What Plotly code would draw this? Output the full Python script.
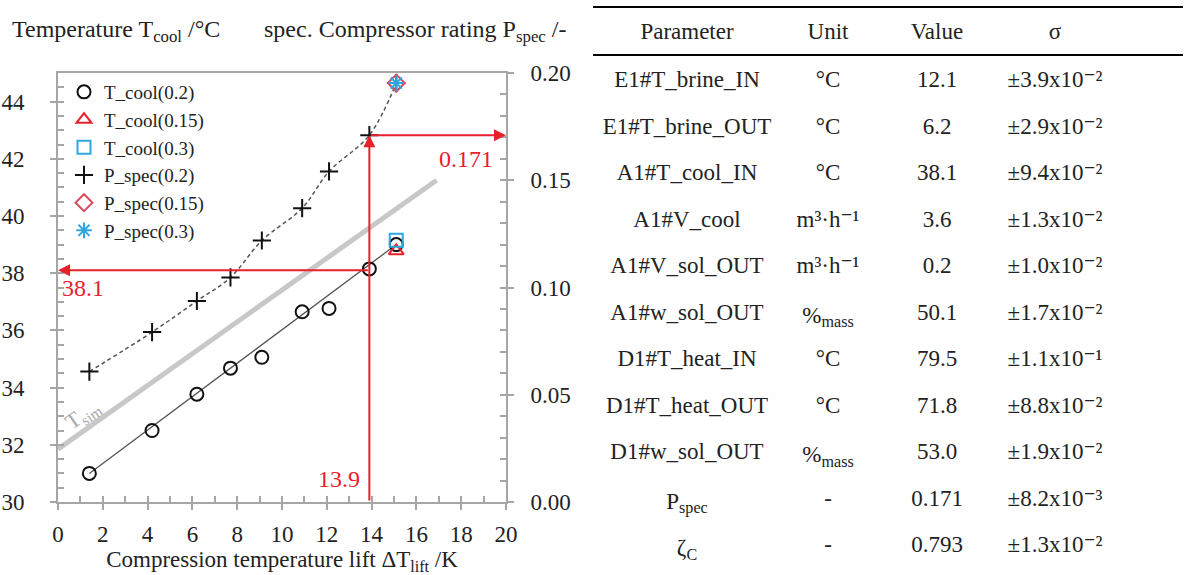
import plotly.graph_objects as go

# ---------------- data ----------------
dT_lift = [1.4, 4.2, 6.2, 7.7, 9.1, 10.9, 12.1, 13.9, 15.1]
T_cool_02 = [31.0, 32.5, 33.77, 34.68, 35.06, 36.65, 36.77, 38.15, 39.0]
P_spec_02 = [0.0608, 0.0792, 0.0937, 0.1047, 0.1219, 0.137, 0.1541, 0.171, 0.1953]

dT_single = [15.1]
T_cool_015 = [38.78]
T_cool_03 = [39.15]
P_spec_015 = [0.1953]
P_spec_03 = [0.1953]

fit_x = [1.4, 15.1]
fit_T = [31.0, 39.0]

sim_x = [0.0, 16.9]
sim_T = [31.85, 41.25]

op_dT = 13.9
op_T = 38.1
op_P = 0.171

xticks = list(range(0, 21, 2))

tbl_param = ["E1#T_brine_IN", "E1#T_brine_OUT", "A1#T_cool_IN", "A1#V_cool",
             "A1#V_sol_OUT", "A1#w_sol_OUT", "D1#T_heat_IN", "D1#T_heat_OUT",
             "D1#w_sol_OUT", "P<sub>spec</sub>", "ζ<sub>C</sub>"]
tbl_unit = ["°C", "°C", "°C", "m³·h⁻¹", "m³·h⁻¹",
            "%<sub>mass</sub>", "°C", "°C", "%<sub>mass</sub>", "-", "-"]
tbl_value = ["12.1", "6.2", "38.1", "3.6", "0.2", "50.1", "79.5", "71.8",
             "53.0", "0.171", "0.793"]
tbl_sigma = ["±3.9x10⁻²", "±2.9x10⁻²", "±9.4x10⁻²", "±1.3x10⁻²", "±1.0x10⁻²",
             "±1.7x10⁻²", "±1.1x10⁻¹", "±8.8x10⁻²", "±1.9x10⁻²", "±8.2x10⁻³",
             "±1.3x10⁻²"]
tbl_header = ["Parameter", "Unit", "Value", "σ"]

# ---------------- style ----------------
W, H = 1187, 575
FONT = "Times New Roman, Liberation Serif, DejaVu Serif, serif"
RED = "#e8202a"
GRAY = "#a6a6a6"
TXT = "#222222"
BLUE = "#2ea6de"

px_l, px_r, px_t, px_b = 58, 506, 73, 502
xdom = [px_l / W, px_r / W]
ydom = [1 - px_b / H, 1 - px_t / H]

fig = go.Figure()

# simulated line
fig.add_trace(go.Scatter(x=sim_x, y=sim_T, mode="lines",
                         line=dict(color="#c8c8c8", width=5),
                         showlegend=False, hoverinfo="skip"))
# linear fit of T_cool
fig.add_trace(go.Scatter(x=fit_x, y=fit_T, mode="lines",
                         line=dict(color="#555555", width=1.3),
                         showlegend=False, hoverinfo="skip"))
# P_spec trend (dashed)
fig.add_trace(go.Scatter(x=dT_lift, y=P_spec_02, mode="lines", yaxis="y2",
                         line=dict(color="#555555", width=1.5, dash="4px,3px", shape="spline"),
                         showlegend=False, hoverinfo="skip"))

mk = dict(size=13, line=dict(width=2))
fig.add_trace(go.Scatter(x=dT_lift, y=T_cool_02, mode="markers", name="T_cool(0.2)",
                         marker=dict(symbol="circle-open", color="#111111", **mk)))
fig.add_trace(go.Scatter(x=dT_single, y=T_cool_015, mode="markers", name="T_cool(0.15)",
                         marker=dict(symbol="triangle-up-open", color=RED, **mk)))
fig.add_trace(go.Scatter(x=dT_single, y=T_cool_03, mode="markers", name="T_cool(0.3)",
                         marker=dict(symbol="square-open", color=BLUE, **mk)))
fig.add_trace(go.Scatter(x=dT_lift, y=P_spec_02, mode="markers", name="P_spec(0.2)", yaxis="y2",
                         marker=dict(symbol="cross-thin-open", color="#111111", **mk)))
fig.add_trace(go.Scatter(x=dT_single, y=P_spec_015, mode="markers", name="P_spec(0.15)", yaxis="y2",
                         marker=dict(symbol="diamond-open", color="#d9485a", **mk)))
fig.add_trace(go.Scatter(x=dT_single, y=P_spec_03, mode="markers", name="P_spec(0.3)", yaxis="y2",
                         marker=dict(symbol="asterisk-open", color=BLUE, **mk)))

# dummy traces for overlay (inside-tick) axes
fig.add_trace(go.Scatter(x=[None], y=[None], xaxis="x2", yaxis="y3", showlegend=False, hoverinfo="skip"))
fig.add_trace(go.Scatter(x=[None], y=[None], xaxis="x2", yaxis="y4", showlegend=False, hoverinfo="skip"))

# table
fig.add_trace(go.Table(
    domain=dict(x=[593 / W, 1111 / W], y=[0, 1 - 14 / H]),
    columnwidth=[188, 94, 124, 112],
    header=dict(values=tbl_header, height=48, align="center",
                fill_color="white", line=dict(width=0, color="white"),
                font=dict(family=FONT, size=23, color=TXT)),
    cells=dict(values=[tbl_param, tbl_unit, tbl_value, tbl_sigma], height=46.5,
               align="center", fill_color="white", line=dict(width=0, color="white"),
               font=dict(family=FONT, size=23, color=TXT)),
))

tickfont = dict(family=FONT, size=23, color=TXT)
common = dict(showgrid=False, zeroline=False, ticks="outside", ticklen=6, tickwidth=1.5,
              tickcolor=GRAY, linecolor=GRAY, linewidth=2, tickfont=tickfont, automargin=False)

fig.update_layout(
    width=W, height=H,
    margin=dict(l=0, r=0, t=0, b=0),
    paper_bgcolor="white", plot_bgcolor="white",
    font=dict(family=FONT, color=TXT),
    xaxis=dict(domain=xdom, range=[0, 20], tickvals=xticks, showline=True, mirror=True,
               ticklabelstandoff=4,
               title=dict(text="Compression temperature lift ΔT<sub>lift</sub> /K",
                          font=dict(family=FONT, size=23, color=TXT), standoff=13),
               **common),
    yaxis=dict(domain=ydom, range=[30, 45], dtick=2, tick0=30, showline=True,
               ticklabelstandoff=21, **common),
    yaxis2=dict(overlaying="y", side="right", anchor="x", range=[0, 0.2], dtick=0.05,
                tickformat=".2f", showline=True, ticklabelstandoff=12, **common),
    xaxis2=dict(overlaying="x", anchor="y3", range=[0, 20], dtick=1, showticklabels=False,
                showgrid=False, zeroline=False, showline=False, ticks="inside", ticklen=6,
                tickwidth=1.5, tickcolor=GRAY),
    yaxis3=dict(overlaying="y", anchor="x", range=[30, 45], dtick=0.5, tick0=30,
                showticklabels=False, showgrid=False, zeroline=False, showline=False,
                ticks="inside", ticklen=6, tickwidth=1.5, tickcolor=GRAY),
    yaxis4=dict(overlaying="y", side="right", anchor="x", range=[0, 0.2], dtick=0.01,
                showticklabels=False, showgrid=False, zeroline=False, showline=False,
                ticks="inside", ticklen=6, tickwidth=1.5, tickcolor=GRAY),
    legend=dict(x=64 / W, y=1 - 73 / H, xanchor="left", yanchor="top", bgcolor="rgba(0,0,0,0)",
                font=dict(family=FONT, size=19, color=TXT), itemwidth=30,
                tracegroupgap=0),
    showlegend=True,
)

ann = []
# top axis titles
ann.append(dict(xref="paper", yref="paper", x=10 / W, y=1 - 31 / H, xanchor="left", yanchor="middle",
                text="Temperature T<sub>cool</sub> /°C", showarrow=False,
                font=dict(family=FONT, size=24, color=TXT)))
ann.append(dict(xref="paper", yref="paper", x=262 / W, y=1 - 31 / H, xanchor="left", yanchor="middle",
                text="spec. Compressor rating P<sub>spec</sub> /-", showarrow=False,
                font=dict(family=FONT, size=24, color=TXT)))
# red arrows
P_on_T = 30 + op_P / 0.2 * 15
ann.append(dict(x=op_dT, y=P_on_T, ax=op_dT, ay=30, xref="x", yref="y", axref="x", ayref="y",
                showarrow=True, arrowhead=2, arrowsize=1.2, arrowwidth=2, arrowcolor=RED, text=""))
ann.append(dict(x=20, y=P_on_T, ax=op_dT, ay=P_on_T, xref="x", yref="y", axref="x", ayref="y",
                showarrow=True, arrowhead=2, arrowsize=1.2, arrowwidth=2, arrowcolor=RED, text=""))
ann.append(dict(x=0, y=op_T, ax=op_dT, ay=op_T, xref="x", yref="y", axref="x", ayref="y",
                showarrow=True, arrowhead=2, arrowsize=1.2, arrowwidth=2, arrowcolor=RED, text=""))
# red labels
ann.append(dict(x=0.1, y=op_T - 0.6, xref="x", yref="y", xanchor="left", yanchor="middle",
                text=f"{op_T}", showarrow=False, font=dict(family=FONT, size=24, color=RED)))
ann.append(dict(x=19.5, y=42.0, xref="x", yref="y", xanchor="right", yanchor="middle",
                text=f"{op_P}", showarrow=False, font=dict(family=FONT, size=24, color=RED)))
ann.append(dict(x=13.55, y=30.8, xref="x", yref="y", xanchor="right", yanchor="middle",
                text=f"{op_dT}", showarrow=False, font=dict(family=FONT, size=24, color=RED)))
# T_sim label
ann.append(dict(x=1.12, y=33.05, xref="x", yref="y", text="T<sub>sim</sub>", showarrow=False,
                textangle=-35, font=dict(family=FONT, size=22, color="#a8a8a8")))
fig.update_layout(annotations=ann)

# table rules
fig.add_shape(type="line", xref="paper", yref="paper", x0=593 / W, x1=1183 / W,
              y0=1 - 7 / H, y1=1 - 7 / H, line=dict(color="black", width=2))
fig.add_shape(type="line", xref="paper", yref="paper", x0=593 / W, x1=1183 / W,
              y0=1 - 55 / H, y1=1 - 55 / H, line=dict(color="black", width=2))

fig.write_html("out.html")
